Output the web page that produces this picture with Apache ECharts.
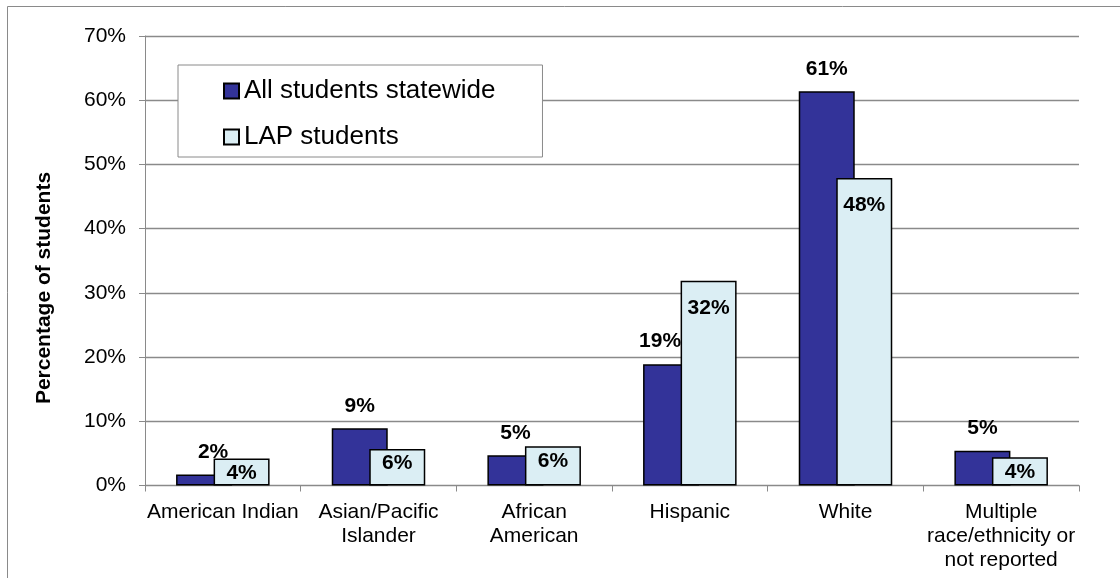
<!DOCTYPE html>
<html>
<head>
<meta charset="utf-8">
<title>Race/ethnicity of students</title>
<script src="https://cdn.jsdelivr.net/npm/echarts@6/dist/echarts.min.js"></script>
<style>
  html, body { margin: 0; padding: 0; background: #fff; }
  #chart { width: 1120px; height: 578px; }
</style>
</head>
<body>
<div id="chart"></div>
<script>
// Share of students by race/ethnicity (percent)
const categories = [
  'American Indian',
  'Asian/Pacific\nIslander',
  'African\nAmerican',
  'Hispanic',
  'White',
  'Multiple\nrace/ethnicity or\nnot reported'
];
const allStudents = [1.7, 8.9, 4.7, 18.9, 61.4, 5.4];
const lapStudents = [4.2, 5.7, 6.1, 31.9, 47.9, 4.4];
const yTicks = [0, 10, 20, 30, 40, 50, 60, 70];

const seriesNames = ['All students statewide', 'LAP students'];
const FONT = "'Liberation Sans', Arial, sans-serif";

// small horizontal nudges for labels that would otherwise collide with the neighbouring bar
const allLabelNudge = { 0: 9, 3: -11 };

const pct = p => Math.round(p.value) + '%';

const chart = echarts.init(document.getElementById('chart'), null, { renderer: 'canvas' });

chart.setOption({
  animation: false,
  backgroundColor: '#fff',
  textStyle: { fontFamily: FONT },
  grid: { left: 145, right: 41, top: 36, bottom: 92.5, containLabel: false },
  legend: {
    orient: 'vertical',
    left: 178,
    top: 65,
    padding: [11, 47, 5, 45],
    icon: 'rect',
    itemWidth: 15,
    itemHeight: 15,
    itemGap: 16,
    backgroundColor: '#fff',
    borderColor: '#8a8a8a',
    borderWidth: 1,
    borderRadius: 0,
    textStyle: { fontFamily: FONT, fontSize: 26, lineHeight: 30, color: '#000' },
    data: seriesNames
  },
  xAxis: {
    type: 'category',
    data: categories,
    axisLine: { lineStyle: { color: '#8a8a8a', width: 1 } },
    axisTick: { show: true, length: 6, lineStyle: { color: '#8a8a8a' } },
    axisLabel: {
      fontFamily: FONT, fontSize: 21, lineHeight: 24, color: '#000',
      margin: 15, interval: 0
    }
  },
  yAxis: {
    type: 'value',
    min: yTicks[0],
    max: yTicks[yTicks.length - 1],
    interval: 10,
    axisLine: { show: true, lineStyle: { color: '#8a8a8a', width: 1 } },
    axisTick: { show: true, length: 6, lineStyle: { color: '#8a8a8a' } },
    axisLabel: { fontFamily: FONT, fontSize: 21, color: '#000', margin: 19, formatter: '{value}%' },
    splitLine: { show: true, lineStyle: { color: '#8a8a8a', width: 1.3 } }
  },
  graphic: [
    {
      type: 'rect',
      silent: true,
      shape: { x: 7.5, y: 6.5, width: 1300, height: 800 },
      style: { fill: 'none', stroke: '#8a8a8a', lineWidth: 1 }
    },
    {
      type: 'text',
      x: 44,
      y: 288,
      rotation: Math.PI / 2,
      style: {
        text: 'Percentage of students',
        font: 'bold 21px ' + FONT,
        fill: '#000',
        textAlign: 'center',
        textVerticalAlign: 'middle'
      }
    }
  ],
  series: [
    {
      name: seriesNames[0],
      type: 'bar',
      barWidth: 56,
      barGap: '-33%',
      itemStyle: { color: '#333399', borderColor: '#000', borderWidth: 1.5 },
      label: {
        show: true, position: 'top', distance: 12,
        fontFamily: FONT, fontSize: 21, fontWeight: 'bold', color: '#000',
        formatter: pct
      },
      data: allStudents.map((v, i) => ({
        value: v,
        label: allLabelNudge[i] ? { offset: [allLabelNudge[i], 0] } : undefined
      }))
    },
    {
      name: seriesNames[1],
      type: 'bar',
      barWidth: 56,
      itemStyle: { color: '#dbeef4', borderColor: '#000', borderWidth: 1.5 },
      label: {
        show: true, position: 'insideTop',
        fontFamily: FONT, fontSize: 21, fontWeight: 'bold', color: '#000',
        formatter: pct
      },
      data: lapStudents.map(v => ({
        value: v,
        label: { distance: v >= 20 ? 17 : 4 }
      }))
    }
  ]
});
</script>
</body>
</html>
